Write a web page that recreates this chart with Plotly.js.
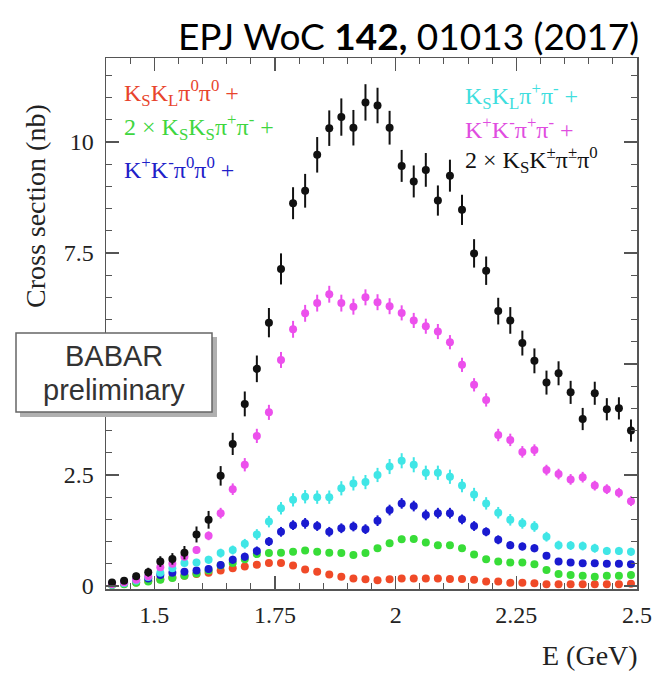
<!DOCTYPE html>
<html>
<head>
<meta charset="utf-8">
<script src="https://cdn.plot.ly/plotly-3.0.1.min.js"></script>
<style>
  html, body { margin: 0; padding: 0; background: #fff; }
  #chart { width: 660px; height: 674px; }
</style>
</head>
<body>
<div id="chart"></div>
<script>
// Bin centres, 25 MeV bins from 1.4 to 2.5 GeV
const energy = [1.4125,1.4375,1.4625,1.4875,1.5125,1.5375,1.5625,1.5875,1.6125,1.6375,1.6625,1.6875,1.7125,1.7375,1.7625,1.7875,1.8125,1.8375,1.8625,1.8875,1.9125,1.9375,1.9625,1.9875,2.0125,2.0375,2.0625,2.0875,2.1125,2.1375,2.1625,2.1875,2.2125,2.2375,2.2625,2.2875,2.3125,2.3375,2.3625,2.3875,2.4125,2.4375,2.4625,2.4875];

// Cumulative cross sections (nb) and their uncertainties
const ksklPi0Pi0 = [0.03,0.05,0.08,0.11,0.15,0.19,0.23,0.27,0.30,0.35,0.40,0.44,0.48,0.52,0.52,0.46,0.37,0.32,0.26,0.21,0.17,0.15,0.13,0.15,0.17,0.17,0.17,0.17,0.16,0.16,0.14,0.10,0.10,0.07,0.07,0.06,0.04,0.04,0.04,0.04,0.04,0.04,0.04,0.05];
const ksklPi0Pi0Err = [0.02,0.02,0.02,0.03,0.03,0.03,0.04,0.04,0.04,0.04,0.05,0.05,0.05,0.05,0.05,0.05,0.05,0.05,0.04,0.04,0.04,0.04,0.04,0.04,0.04,0.04,0.04,0.04,0.04,0.04,0.04,0.04,0.04,0.03,0.03,0.03,0.03,0.03,0.03,0.03,0.03,0.03,0.03,0.03];

const ksksPipPim = [0.02,0.04,0.07,0.10,0.14,0.18,0.23,0.28,0.35,0.46,0.52,0.60,0.72,0.74,0.75,0.77,0.80,0.77,0.75,0.74,0.70,0.74,0.85,0.96,1.05,1.06,0.98,0.92,0.92,0.85,0.71,0.60,0.55,0.53,0.53,0.49,0.36,0.27,0.25,0.23,0.21,0.23,0.23,0.25];
const ksksPipPimErr = [0.02,0.02,0.03,0.03,0.04,0.04,0.05,0.05,0.05,0.06,0.06,0.06,0.07,0.07,0.07,0.07,0.07,0.07,0.07,0.07,0.07,0.07,0.07,0.08,0.08,0.08,0.08,0.07,0.07,0.07,0.07,0.06,0.06,0.06,0.06,0.06,0.05,0.05,0.05,0.05,0.05,0.05,0.05,0.05];

const kpkmPi0Pi0 = [0.05,0.09,0.14,0.17,0.25,0.30,0.32,0.35,0.38,0.47,0.59,0.66,0.79,1.00,1.22,1.37,1.41,1.35,1.22,1.30,1.34,1.28,1.47,1.71,1.86,1.80,1.60,1.64,1.64,1.50,1.35,1.22,1.04,0.92,0.89,0.85,0.68,0.55,0.53,0.51,0.51,0.50,0.50,0.49];
const kpkmPi0Pi0Err = [0.02,0.03,0.04,0.05,0.06,0.06,0.07,0.07,0.08,0.08,0.09,0.09,0.10,0.10,0.11,0.11,0.12,0.11,0.11,0.11,0.11,0.11,0.12,0.12,0.12,0.12,0.12,0.12,0.12,0.11,0.11,0.10,0.10,0.09,0.09,0.09,0.08,0.08,0.07,0.07,0.07,0.07,0.07,0.07];

const ksklPipPim = [0.03,0.06,0.12,0.20,0.30,0.40,0.52,0.53,0.59,0.74,0.81,0.95,1.16,1.45,1.75,1.94,2.01,2.00,2.00,2.20,2.31,2.34,2.50,2.69,2.82,2.73,2.55,2.55,2.46,2.26,2.06,1.86,1.65,1.49,1.41,1.34,1.11,0.92,0.91,0.90,0.85,0.79,0.79,0.77];
const ksklPipPimErr = [0.02,0.03,0.04,0.05,0.06,0.07,0.08,0.08,0.09,0.10,0.10,0.11,0.12,0.13,0.14,0.15,0.15,0.15,0.15,0.16,0.16,0.16,0.16,0.17,0.17,0.17,0.16,0.16,0.16,0.15,0.15,0.14,0.13,0.13,0.12,0.12,0.11,0.10,0.10,0.10,0.10,0.09,0.09,0.09];

const kpkmPipPim = [0.04,0.08,0.14,0.22,0.42,0.50,0.66,0.81,1.13,1.64,2.18,2.73,3.38,3.91,5.09,5.78,6.14,6.37,6.57,6.37,6.29,6.50,6.39,6.30,6.15,5.98,5.85,5.73,5.49,4.98,4.53,4.19,3.40,3.29,3.02,3.06,2.61,2.52,2.40,2.45,2.26,2.18,2.10,1.91];
const kpkmPipPimErr = [0.02,0.03,0.04,0.05,0.06,0.07,0.08,0.09,0.10,0.12,0.13,0.15,0.16,0.17,0.18,0.19,0.19,0.19,0.19,0.19,0.18,0.18,0.18,0.18,0.17,0.17,0.17,0.17,0.16,0.16,0.15,0.15,0.14,0.14,0.13,0.13,0.12,0.12,0.12,0.12,0.11,0.11,0.11,0.11];

const ksKPiPi0 = [0.08,0.12,0.22,0.31,0.55,0.61,0.75,1.16,1.49,2.48,3.20,4.10,4.89,5.93,7.14,8.62,8.90,9.71,10.31,10.56,10.32,10.89,10.82,10.32,9.46,9.11,9.37,8.68,9.24,8.47,7.49,7.10,6.19,5.98,5.47,5.07,4.58,4.79,4.36,3.76,4.34,3.98,4.00,3.50];
const ksKPiPi0Err = [0.05,0.06,0.08,0.10,0.12,0.13,0.15,0.18,0.20,0.22,0.25,0.28,0.30,0.33,0.35,0.36,0.38,0.40,0.40,0.42,0.40,0.41,0.40,0.38,0.36,0.36,0.38,0.34,0.36,0.34,0.32,0.32,0.30,0.30,0.28,0.28,0.27,0.27,0.26,0.25,0.26,0.25,0.25,0.25];

// Axis tick labels (the label at 5 sits under the BABAR box, so it is left blank)
const xTickVals = [1.5, 1.75, 2, 2.25, 2.5];
const xTickText = ['1.5', '1.75', '2', '2.25', '2.5'];
const yTickVals = [0, 2.5, 5, 7.5, 10];
const yTickText = ['0', '2.5', '', '7.5', '10'];

// Legend labels
const labelRed = 'K<sub>S</sub>K<sub>L</sub>π<sup>0</sup>π<sup>0</sup> +';
const labelGreen = '2 × K<sub>S</sub>K<sub>S</sub>π<sup>+</sup>π<sup>-</sup> +';
const labelBlue = 'K<sup>+</sup>K<sup>-</sup>π<sup>0</sup>π<sup>0</sup> +';
const labelCyan = 'K<sub>S</sub>K<sub>L</sub>π<sup>+</sup>π<sup>-</sup> +';
const labelMagenta = 'K<sup>+</sup>K<sup>-</sup>π<sup>+</sup>π<sup>-</sup> +';
const labelBlack = '2 × K<sub>S</sub>K<sup>±</sup>π<sup>±</sup>π<sup>0</sup>';

const serif = '"Liberation Serif", "DejaVu Serif", serif';

function series(y, err, color) {
  return {
    type: 'scatter', mode: 'markers', x: energy, y: y,
    marker: { color: color, size: 8, line: { width: 0 } },
    error_y: { type: 'data', array: err, visible: true, width: 0, thickness: 2, color: color },
    showlegend: false, hoverinfo: 'skip'
  };
}

const traces = [
  series(ksklPi0Pi0, ksklPi0Pi0Err, '#f04a28'),
  series(ksksPipPim, ksksPipPimErr, '#38dd38'),
  series(kpkmPi0Pi0, kpkmPi0Pi0Err, '#1a1ad0'),
  series(ksklPipPim, ksklPipPimErr, '#40e6e6'),
  series(kpkmPipPim, kpkmPipPimErr, '#ec50ec'),
  series(ksKPiPi0, ksKPiPi0Err, '#111111')
];

// plot area: x 106..637 px, y 58..589 px
const L = 106, T = 58, W = 531, H = 531;
const px = v => (v - L) / W;
const py = v => (T + H - v) / H;

function label(text, x, y, color) {
  return { text: text, xref: 'paper', yref: 'paper', x: px(x), y: py(y),
    xanchor: 'left', yanchor: 'middle', showarrow: false,
    font: { family: serif, size: 24, color: color } };
}

const axisCommon = {
  ticks: 'inside', ticklen: 13, tickwidth: 1.5, tickcolor: '#555',
  showline: true, linecolor: '#555', linewidth: 1.5, mirror: 'ticks',
  showgrid: false, zeroline: false, tickmode: 'array',
  tickfont: { family: serif, size: 24, color: '#222' }
};

const layout = {
  width: 660, height: 674,
  margin: { l: L, r: 660 - L - W, t: T, b: 674 - T - H },
  paper_bgcolor: '#ffffff', plot_bgcolor: '#ffffff',
  xaxis: Object.assign({}, axisCommon, {
    range: [1.4, 2.5], tickvals: xTickVals, ticktext: xTickText,
    ticklabelstandoff: 4,
    minor: { tickmode: 'linear', tick0: 1.5, dtick: 0.05, ticks: 'inside', ticklen: 6, tickcolor: '#555', tickwidth: 1 }
  }),
  yaxis: Object.assign({}, axisCommon, {
    range: [-0.068, 11.89], tickvals: yTickVals, ticktext: yTickText,
    ticklabelstandoff: 6,
    minor: { tickmode: 'linear', tick0: 0, dtick: 0.5, ticks: 'inside', ticklen: 6, tickcolor: '#555', tickwidth: 1 }
  }),
  shapes: [
    { type: 'rect', xref: 'paper', yref: 'paper', layer: 'above',
      x0: px(20), x1: px(217), y0: py(417), y1: py(337),
      fillcolor: '#b0b0b0', line: { width: 0 } },
    { type: 'rect', xref: 'paper', yref: 'paper', layer: 'above',
      x0: px(16), x1: px(212), y0: py(412), y1: py(333),
      fillcolor: '#ffffff', line: { color: '#666', width: 1.5 } }
  ],
  annotations: [
    label(labelRed, 122, 93, '#e8442c'),
    label(labelGreen, 122, 127, '#3fd63f'),
    label(labelBlue, 122, 168, '#2020c8'),
    label(labelCyan, 463, 96, '#3fdede'),
    label(labelMagenta, 463, 128, '#e04ce0'),
    label(labelBlack, 463, 160, '#111111'),
    { text: 'BABAR', xref: 'paper', yref: 'paper', x: px(114), y: py(356),
      xanchor: 'center', yanchor: 'middle', showarrow: false,
      font: { family: '"Liberation Sans", Arial, sans-serif', size: 29, color: '#333' } },
    { text: 'preliminary', xref: 'paper', yref: 'paper', x: px(114), y: py(390),
      xanchor: 'center', yanchor: 'middle', showarrow: false,
      font: { family: '"Liberation Sans", Arial, sans-serif', size: 29, color: '#333' } },
    { text: 'Cross section (nb)', xref: 'paper', yref: 'paper', x: px(35), y: py(206),
      xanchor: 'center', yanchor: 'middle', textangle: -90, showarrow: false,
      font: { family: serif, size: 28, color: '#222' } },
    { text: 'E (GeV)', xref: 'paper', yref: 'paper', x: px(640), y: py(655),
      xanchor: 'right', yanchor: 'middle', showarrow: false,
      font: { family: serif, size: 28, color: '#222' } },
    { text: 'EPJ WoC <b>142,</b> 01013 (2017)', xref: 'paper', yref: 'paper', x: px(641), y: py(35),
      xanchor: 'right', yanchor: 'middle', showarrow: false,
      font: { family: 'Lato, "Open Sans", sans-serif', size: 37, color: '#000' } }
  ]
};

Plotly.newPlot('chart', traces, layout, { staticPlot: true, displayModeBar: false });
</script>
</body>
</html>
